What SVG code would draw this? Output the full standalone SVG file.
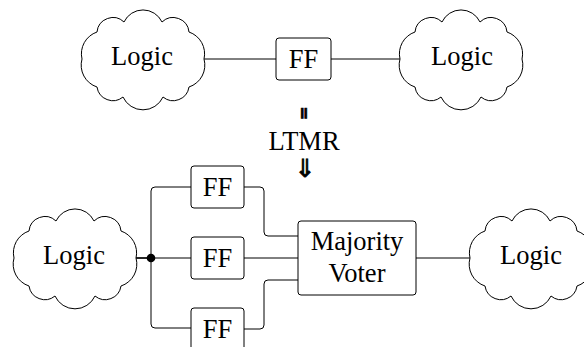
<svg xmlns="http://www.w3.org/2000/svg" width="584" height="347" viewBox="0 0 584 347" font-family="Liberation Serif, Times New Roman, serif">
  <style>
    .wire { fill: none; stroke: #000; stroke-width: 1; }
    .box { fill: #fff; stroke: #000; stroke-width: 1; }
    .cloud { fill: #fff; stroke: #000; stroke-width: 1; }
    text { fill: #000; text-anchor: middle; font-size: 26.5px; }
    .sym { stroke: #000; }
  </style>
  <defs>
    <!-- ten-puff cloud outline centred on the origin -->
    <path id="cloudShape" d="M -61 0 A 23 23 0 0 1 -46 -27 A 16 16 0 0 1 -19 -37 A 21 21 0 0 1 19 -37 A 16 16 0 0 1 46 -27 A 23 23 0 0 1 61 0 A 23 23 0 0 1 46 28 A 16 16 0 0 1 20 38 A 22 22 0 0 1 -20 38 A 16 16 0 0 1 -46 28 A 23 23 0 0 1 -61 0 Z"/>
  </defs>

  <!-- connectors -->
  <g id="connectors">
    <path class="wire" d="M 204 59 H 276"/>
    <path class="wire" d="M 331 59 H 400"/>
    <path class="wire" d="M 136 258 H 151" style="stroke-width:1.7"/>
    <path class="wire" d="M 151 258 H 191"/>
    <path class="wire" d="M 191 187 H 155 Q 151 187 151 191 V 324 Q 151 328 155 328 H 191"/>
    <path class="wire" d="M 244 187 H 260 Q 264 187 264 191 V 232 Q 264 236 268 236 H 298"/>
    <path class="wire" d="M 244 258 H 298"/>
    <path class="wire" d="M 244 329 H 260 Q 264 329 264 325 V 284 Q 264 280 268 280 H 298"/>
    <path class="wire" d="M 416 258 H 470"/>
    <circle cx="151" cy="258" r="4.3" fill="#000"/>
  </g>

  <!-- single flip-flop design -->
  <g id="logic-in-top">
    <use href="#cloudShape" class="cloud" transform="translate(143 59)"/>
    <text x="142" y="65">Logic</text>
  </g>
  <g id="ff-top">
    <rect class="box" x="276" y="38" width="55" height="42" rx="3"/>
    <text x="303.5" y="68">FF</text>
  </g>
  <g id="logic-out-top">
    <use href="#cloudShape" class="cloud" transform="translate(461 59)"/>
    <text x="462" y="65">Logic</text>
  </g>

  <!-- transformation label -->
  <g id="ltmr">
    <text class="sym" font-family="DejaVu Sans, sans-serif" style="font-size: 11px" stroke-width="0.4" transform="translate(304 115.7) scale(2 1)" x="0" y="0">‖</text>
    <text x="304" y="150">LTMR</text>
    <text class="sym" font-family="DejaVu Sans, sans-serif" style="font-size: 25px" stroke-width="0.8" x="305" y="177">⇓</text>
  </g>

  <!-- triplicated design -->
  <g id="logic-in-bottom">
    <use href="#cloudShape" class="cloud" transform="translate(75 258)"/>
    <text x="74" y="264">Logic</text>
  </g>
  <g id="ff-a">
    <rect class="box" x="191" y="166" width="53" height="42" rx="3"/>
    <text x="217.5" y="196">FF</text>
  </g>
  <g id="ff-b">
    <rect class="box" x="191" y="237" width="53" height="42" rx="3"/>
    <text x="217.5" y="267">FF</text>
  </g>
  <g id="ff-c">
    <rect class="box" x="191" y="308" width="53" height="42" rx="3"/>
    <text x="217.5" y="338">FF</text>
  </g>
  <g id="voter">
    <rect class="box" x="298" y="221" width="118" height="74" rx="3"/>
    <text x="357" y="250">Majority</text>
    <text x="357" y="282">Voter</text>
  </g>
  <g id="logic-out-bottom">
    <use href="#cloudShape" class="cloud" transform="translate(531 258)"/>
    <text x="531" y="264">Logic</text>
  </g>
</svg>
